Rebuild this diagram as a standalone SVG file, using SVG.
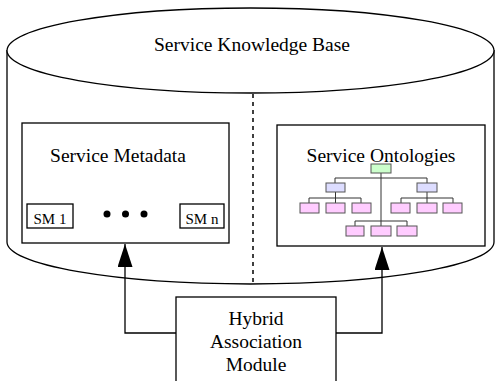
<svg xmlns="http://www.w3.org/2000/svg" width="495" height="381" viewBox="0 0 495 381">
<style>
.o{fill:none;stroke:#000;stroke-width:1.3}
.b{fill:#fff;stroke:#000;stroke-width:1.3}
.t{font-family:"Liberation Serif","Times New Roman",serif;fill:#000;text-anchor:middle}
.tl{stroke:#333;stroke-width:1;fill:none}
.r{fill:#ccffcc;stroke:#555;stroke-width:1}
.m{fill:#ddddff;stroke:#555;stroke-width:1}
.c{fill:#ffccff;stroke:#555;stroke-width:1}
</style>
<defs>
<marker id="ah" markerWidth="23" markerHeight="15" refX="23" refY="7.5" orient="auto" markerUnits="userSpaceOnUse" viewBox="0 0 23 15">
<path d="M0,0 L23,7.5 L0,15 Z" fill="#000"/>
</marker>
</defs>
<g id="knowledge-base">
<path class="o" d="M7,50 L7,242 A243.5,42 0 0 0 494,242 L494,50"/>
<ellipse class="b" cx="250.5" cy="50.5" rx="243.5" ry="42.5"/>
<line x1="253" y1="94" x2="253" y2="283" stroke="#000" stroke-width="1.5" stroke-dasharray="4,4"/>
<text class="t" x="252" y="51" font-size="19.5">Service Knowledge Base</text>
</g>
<g id="service-metadata">
<rect class="b" x="22" y="123" width="207" height="120"/>
<text class="t" x="118" y="162" font-size="19.5">Service Metadata</text>
<rect class="b" x="27" y="204" width="46" height="24"/>
<text class="t" x="50" y="224" font-size="15">SM 1</text>
<rect class="b" x="180" y="204" width="44" height="24"/>
<text class="t" x="202" y="224" font-size="15">SM n</text>
<circle cx="107" cy="214" r="3.5" fill="#000"/>
<circle cx="125.5" cy="214" r="3.5" fill="#000"/>
<circle cx="144" cy="214" r="3.5" fill="#000"/>
</g>
<g id="service-ontologies">
<rect class="b" x="277" y="125" width="208" height="121"/>
<text class="t" x="381" y="162" font-size="19.5">Service Ontologies</text>
<path class="tl" d="M335,183 V178 H427 V183 M381,173 V221 M355,226 V221 H407 V226 M381,221 V226 M309,203 V198 H361 V203 M335.5,192 V203 M401,203 V198 H453 V203 M427,192 V203"/>
<rect class="r" x="371" y="164" width="20" height="9"/>
<rect class="m" x="326" y="183" width="19" height="9"/>
<rect class="m" x="417" y="183" width="20" height="9"/>
<rect class="c" x="300" y="203" width="19" height="10"/>
<rect class="c" x="326" y="203" width="19" height="10"/>
<rect class="c" x="352" y="203" width="19" height="10"/>
<rect class="c" x="391" y="203" width="19" height="10"/>
<rect class="c" x="417" y="203" width="20" height="10"/>
<rect class="c" x="443" y="203" width="19" height="10"/>
<rect class="c" x="346" y="226" width="18" height="10"/>
<rect class="c" x="371" y="226" width="20" height="10"/>
<rect class="c" x="397" y="226" width="20" height="10"/>
</g>
<g id="hybrid-module">
<rect class="b" x="176" y="297" width="160" height="90"/>
<text class="t" x="256" y="325" font-size="19.5">Hybrid</text>
<text class="t" x="256" y="348" font-size="19.5">Association</text>
<text class="t" x="256" y="371" font-size="19.5">Module</text>
</g>
<g id="connectors">
<path class="o" d="M176,333 H125 V244" marker-end="url(#ah)"/>
<path class="o" d="M336,333 H382 V247" marker-end="url(#ah)"/>
</g>
</svg>
